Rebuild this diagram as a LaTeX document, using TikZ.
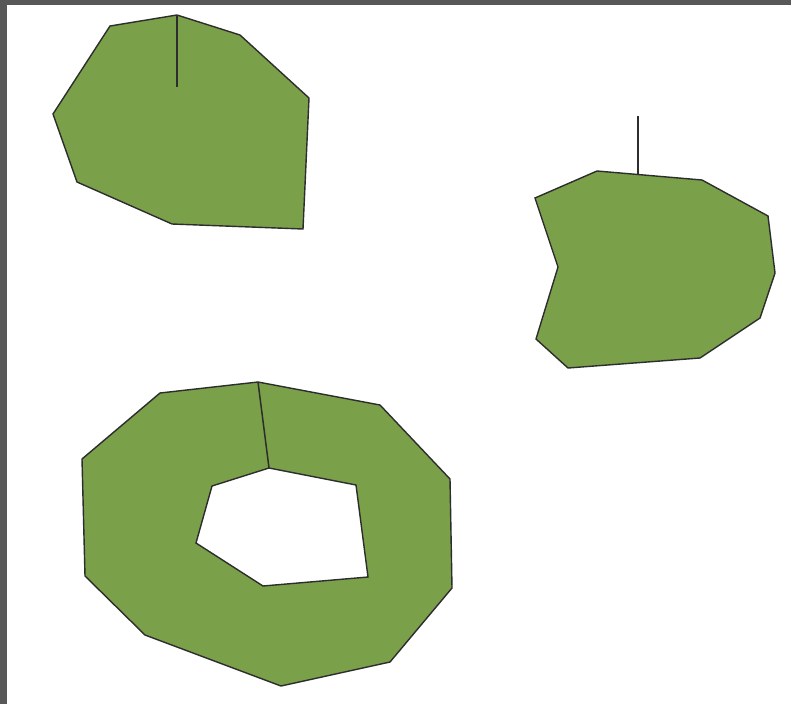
\documentclass[tikz,border=0pt]{standalone}
\usepackage{xcolor}
\definecolor{leaf}{RGB}{122,160,74}
\definecolor{rim}{RGB}{45,45,45}
\definecolor{frame}{RGB}{88,88,88}

\begin{document}
\begin{tikzpicture}[x=1pt,y=-1pt,
    patch/.style={fill=leaf,draw=rim,line width=1.4pt,line join=miter},
    seam/.style={draw=rim,line width=1.5pt}]
  \useasboundingbox (0,0) rectangle (791,704);
  \fill[white] (0,0) rectangle (791,704);
  \fill[frame] (0,0) rectangle (791,5);
  \fill[frame] (0,0) rectangle (7,704);
  % top left patch
  \path[patch] (110,26) -- (177,15) -- (240,35) -- (309,98) -- (303,229)
    -- (172,224) -- (77,182) -- (53,114) -- cycle;
  \draw[seam] (177,15) -- (177,87);
  % right patch
  \path[patch] (535,198) -- (597,171) -- (702,180) -- (768,216) -- (775,273)
    -- (760,318) -- (700,358) -- (568,368) -- (536,339) -- (558,267) -- cycle;
  \draw[seam] (638,116) -- (638,174);
  % ring
  \path[patch,even odd rule] (160,393) -- (258,382) -- (380,405) -- (450,479)
    -- (452,588) -- (390,662) -- (281,686) -- (145,635) -- (85,576) -- (82,459) -- cycle
    (269,468) -- (356,485) -- (368,577) -- (263,586) -- (196,543) -- (212,486) -- cycle;
  \draw[seam] (258,382) -- (269,468);
\end{tikzpicture}
\end{document}
